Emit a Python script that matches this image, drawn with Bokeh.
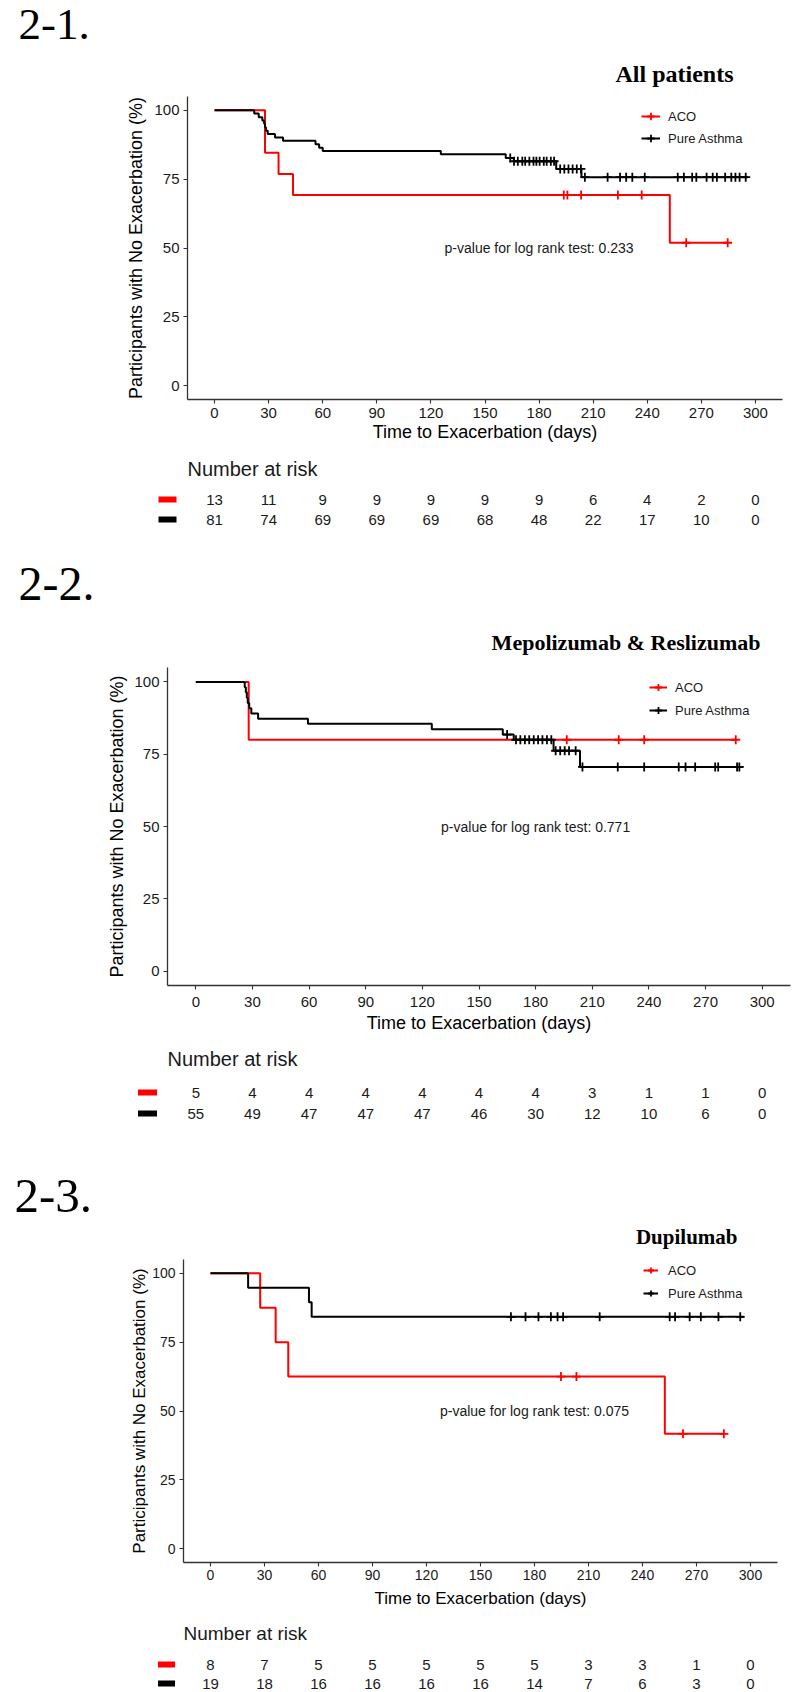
import numpy as np
from bokeh.plotting import figure
from bokeh.layouts import column
from bokeh.models import Range1d, FixedTicker, Legend, LegendItem, Label
from bokeh.core.properties import value
from bokeh.embed import file_html
from bokeh.resources import INLINE

# ---------------- data ----------------
ticks_x = [0, 30, 60, 90, 120, 150, 180, 210, 240, 270, 300]
ticks_y = [0, 25, 50, 75, 100]
groups = ["ACO", "Pure Asthma"]

# 2-1. All patients
p1_aco_t = [0, 28, 35.5, 43.5, 252.5, 284.6]
p1_aco_s = [100, 84.6, 76.9, 69.2, 51.9, 51.9]
p1_aco_cens = [193.7, 195.7, 203.3, 223.7, 236.9, 261.6, 284.6]
p1_pa_t = [0, 22, 24.5, 26.5, 27.5, 28, 28.5, 29.5, 33.5, 38, 56, 58, 60,
           125.5, 161.5, 166, 189.5, 203.5, 296]
p1_pa_s = [100, 98.8, 97.5, 96.3, 95.1, 93.8, 92.6, 91.4, 90.1, 88.9, 87.7, 86.4, 85.2,
           84.0, 82.7, 81.5, 78.7, 75.7, 75.7]
p1_pa_cens = [164.0, 166.1, 168.2, 170.7, 172.3, 174.6, 176.9, 178.5, 180.3, 182.6, 184.2,
              186.5, 188.3, 191.7, 194.0, 196.3, 198.6, 200.9, 203.2, 205.4, 218.0, 224.9,
              228.3, 231.7, 238.6, 256.9, 260.3, 264.9, 267.2, 272.9, 276.3, 278.6, 283.2,
              286.6, 288.9, 291.2, 294.6]
p1_risk_aco = [13, 11, 9, 9, 9, 9, 9, 6, 4, 2, 0]
p1_risk_pa = [81, 74, 69, 69, 69, 68, 48, 22, 17, 10, 0]
p1_pval = "p-value for log rank test: 0.233"

# 2-2. Mepolizumab & Reslizumab
p2_aco_t = [0, 28, 286]
p2_aco_s = [100, 80, 80]
p2_aco_cens = [196.5, 224, 237.5, 286]
p2_pa_t = [0, 25.9, 26.5, 27, 27.5, 28.3, 29.4, 33, 59.4, 125, 162.6, 168.4, 189.5, 203.5, 289.8]
p2_pa_s = [100, 98.2, 96.4, 94.5, 92.7, 90.9, 89.1, 87.3, 85.5, 83.6, 81.8, 80.0, 76.2, 70.6, 70.6]
p2_pa_cens = [164.9, 169.6, 171.9, 174.3, 176.6, 179.0, 181.3, 183.6, 186.0, 188.3, 190.6,
              193.0, 195.4, 197.7, 201.2, 204.8, 223.5, 237.5, 255.8, 259.4, 264.5, 275.1,
              276.7, 286.7, 287.9]
p2_risk_aco = [5, 4, 4, 4, 4, 4, 4, 3, 1, 1, 0]
p2_risk_pa = [55, 49, 47, 47, 47, 46, 30, 12, 10, 6, 0]
p2_pval = "p-value for log rank test: 0.771"

# 2-3. Dupilumab
p3_aco_t = [0, 27.6, 36.2, 43.2, 252.4, 285.2]
p3_aco_s = [100, 87.5, 75, 62.5, 41.7, 41.7]
p3_aco_cens = [194.7, 203.3, 262.5, 285.2]
p3_pa_t = [0, 20.9, 54.7, 56.2, 296.3]
p3_pa_s = [100, 94.7, 89.5, 84.2, 84.2]
p3_pa_cens = [166.9, 175.0, 182.2, 189.1, 192.8, 195.9, 216.2, 255.1, 258.1, 266.2,
              272.4, 282.2, 294.3]
p3_risk_aco = [8, 7, 5, 5, 5, 5, 5, 3, 3, 1, 0]
p3_risk_pa = [19, 18, 16, 16, 16, 16, 14, 7, 6, 3, 0]
p3_pval = "p-value for log rank test: 0.075"

# ---------------- styling / layout ----------------
W = 792
RED = "#FF0000"
BLK = "#000000"
TXT = "#1a1a1a"
SANS = value("Liberation Sans")
SERIF = value("Liberation Serif")
X_START = -15


def surv_at(t, s, c):
    t = np.asarray(t)
    idx = np.searchsorted(t, c, side="right") - 1
    return [s[i] for i in idx]


def blank_fig(h, xr, yr):
    p = figure(width=W, height=h, x_range=xr, y_range=yr, output_backend="svg",
               toolbar_location=None, x_axis_type=None, y_axis_type=None,
               min_border=0, min_border_left=0, min_border_right=0,
               min_border_top=0, min_border_bottom=0, frame_align=False)
    p.outline_line_color = None
    p.background_fill_color = "white"
    p.border_fill_color = "white"
    return p


def header_fig(cfg):
    h = cfg["hh"]
    p = blank_fig(h, Range1d(0, W), Range1d(h, 0))
    p.text(x=[cfg["tag_x"]], y=[cfg["tag_y"]], text=[cfg["tag"]], text_font=SERIF,
           text_font_size=cfg["tag_size"], text_align="left", text_baseline="middle",
           text_color="black")
    p.text(x=[cfg["title_right"]], y=[cfg["title_y"]], text=[cfg["title"]], text_font=SERIF,
           text_font_size=cfg["title_size"], text_font_style="bold", text_align="right",
           text_baseline="middle", text_color="black")
    return p


def main_fig(cfg, aco_t, aco_s, aco_c, pa_t, pa_s, pa_c, pval):
    p = figure(width=W, height=cfg["mh"], x_range=Range1d(X_START, cfg["x_end"]),
               y_range=Range1d(-5, 105), output_backend="svg", toolbar_location=None,
               min_border_left=cfg["mbl"], min_border_right=cfg["mbr"],
               min_border_top=cfg["mbt"], min_border_bottom=cfg["mbb"], frame_align=False)
    p.outline_line_color = None
    p.xgrid.visible = False
    p.ygrid.visible = False
    p.background_fill_color = "white"
    p.border_fill_color = "white"

    for ax in (p.xaxis[0], p.yaxis[0]):
        ax.axis_line_color = "#333333"
        ax.axis_line_width = 1.3
        ax.major_tick_line_color = "#333333"
        ax.major_tick_line_width = 1.1
        ax.major_tick_out = 4
        ax.major_tick_in = 0
        ax.minor_tick_line_color = None
        ax.major_label_text_font = "Liberation Sans"
        ax.major_label_text_color = TXT
        ax.axis_label_text_font = "Liberation Sans"
        ax.axis_label_text_font_style = "normal"
        ax.axis_label_text_color = "black"
    p.xaxis.ticker = FixedTicker(ticks=ticks_x)
    p.yaxis.ticker = FixedTicker(ticks=ticks_y)
    p.xaxis.major_label_text_font_size = cfg["tick_fs"]
    p.yaxis.major_label_text_font_size = cfg["tick_fs"]
    p.xaxis.major_label_standoff = cfg["xls"]
    p.yaxis.major_label_standoff = 4
    p.xaxis.axis_label = "Time to Exacerbation (days)"
    p.yaxis.axis_label = "Participants with No Exacerbation (%)"
    p.xaxis.axis_label_text_font_size = cfg["xlab_fs"]
    p.yaxis.axis_label_text_font_size = cfg["ylab_fs"]
    p.xaxis.axis_label_standoff = cfg["xas"]
    p.yaxis.axis_label_standoff = cfg["yas"]

    r_aco = p.step(aco_t, aco_s, mode="after", line_color=RED, line_width=2)
    r_pa = p.step(pa_t, pa_s, mode="after", line_color=BLK, line_width=2)
    c_aco = p.scatter(aco_c, surv_at(aco_t, aco_s, aco_c), marker="cross", size=9,
                      line_color=RED, line_width=1.8)
    c_pa = p.scatter(pa_c, surv_at(pa_t, pa_s, pa_c), marker="cross", size=9,
                     line_color=BLK, line_width=1.8)

    legend = Legend(items=[LegendItem(label=groups[0], renderers=[r_aco, c_aco]),
                           LegendItem(label=groups[1], renderers=[r_pa, c_pa])],
                    location=cfg["leg_loc"], padding=0, margin=0, spacing=cfg["leg_sp"],
                    glyph_width=cfg["leg_gw"], glyph_height=20, label_height=20,
                    label_standoff=cfg["leg_so"], label_text_font="Liberation Sans",
                    label_text_font_size="13px", label_text_color=TXT,
                    border_line_alpha=0, background_fill_alpha=0)
    p.add_layout(legend, "center")

    p.add_layout(Label(x=180, y=50, text=pval, text_align="center", text_baseline="middle",
                       text_font="Liberation Sans", text_font_size="14px", text_color=TXT))
    return p


def risk_fig(cfg, risk_aco, risk_pa):
    h = cfg["rh"]
    frame_w = W - cfg["mbl"] - cfg["mbr"]
    s = frame_w / (cfg["x_end"] - X_START)
    start = X_START - cfg["mbl"] / s
    end = start + W / s
    p = blank_fig(h, Range1d(start, end), Range1d(h, 0))
    p.text(x=[X_START], y=[cfg["nar_y"]], text=["Number at risk"], text_font=SANS,
           text_font_size=cfg["nar_fs"], text_align="left", text_baseline="middle",
           text_color=TXT)
    mx = X_START + (cfg["mark_px"] - cfg["mbl"]) / s
    for vals, col, ry in ((risk_aco, RED, cfg["row1"]), (risk_pa, BLK, cfg["row2"])):
        p.rect(x=[mx], y=[ry], width=cfg["mark_w"], height=6, width_units="screen",
               height_units="screen", fill_color=col, line_color=None)
        p.text(x=ticks_x, y=[ry] * len(ticks_x), text=[str(v) for v in vals], text_font=SANS,
               text_font_size=cfg["risk_fs"], text_align="center", text_baseline="middle",
               text_color=TXT)
    return p


cfg1 = dict(hh=88, tag="2-1.", tag_x=18, tag_y=24, tag_size="45px",
            title="All patients", title_right=733, title_y=73.5, title_size="24px",
            mh=362, mbl=187, mbr=10, mbt=8, mbb=51, x_end=315,
            tick_fs="15px", xls=4, xlab_fs="18px", ylab_fs="18px", xas=1, yas=5,
            leg_loc=(454, 251), leg_sp=2, leg_gw=19, leg_so=8,
            rh=90, nar_y=18, nar_fs="20px", row1=49, row2=69, mark_px=167, mark_w=18,
            risk_fs="15px")
cfg2 = dict(hh=117, tag="2-2.", tag_x=18, tag_y=43.7, tag_size="48px",
            title="Mepolizumab & Reslizumab", title_right=760, title_y=102, title_size="22px",
            mh=379, mbl=167, mbr=2, mbt=10, mbb=51, x_end=315,
            tick_fs="15px", xls=7, xlab_fs="18px", ylab_fs="18px", xas=3, yas=4,
            leg_loc=(482, 265), leg_sp=3, leg_gw=18, leg_so=8,
            rh=94, nar_y=22, nar_fs="20px", row1=56, row2=77, mark_px=147, mark_w=19,
            risk_fs="15px")
cfg3 = dict(hh=119, tag="2-3.", tag_x=14, tag_y=65, tag_size="49px",
            title="Dupilumab", title_right=737, title_y=106.7, title_size="21px",
            mh=363, mbl=183, mbr=15, mbt=10, mbb=50, x_end=315,
            tick_fs="14px", xls=3, xlab_fs="17px", ylab_fs="17px", xas=6, yas=0,
            leg_loc=(460, 259), leg_sp=3, leg_gw=15, leg_so=10,
            rh=78, nar_y=21, nar_fs="19px", row1=52, row2=71, mark_px=166, mark_w=17,
            risk_fs="15px")

figs = []
for cfg, d in ((cfg1, (p1_aco_t, p1_aco_s, p1_aco_cens, p1_pa_t, p1_pa_s, p1_pa_cens, p1_pval,
                       p1_risk_aco, p1_risk_pa)),
               (cfg2, (p2_aco_t, p2_aco_s, p2_aco_cens, p2_pa_t, p2_pa_s, p2_pa_cens, p2_pval,
                       p2_risk_aco, p2_risk_pa)),
               (cfg3, (p3_aco_t, p3_aco_s, p3_aco_cens, p3_pa_t, p3_pa_s, p3_pa_cens, p3_pval,
                       p3_risk_aco, p3_risk_pa))):
    figs.append(header_fig(cfg))
    figs.append(main_fig(cfg, *d[:7]))
    figs.append(risk_fig(cfg, d[7], d[8]))

layout = column(*figs, spacing=0)
open("out.html", "w").write(file_html(layout, INLINE))
